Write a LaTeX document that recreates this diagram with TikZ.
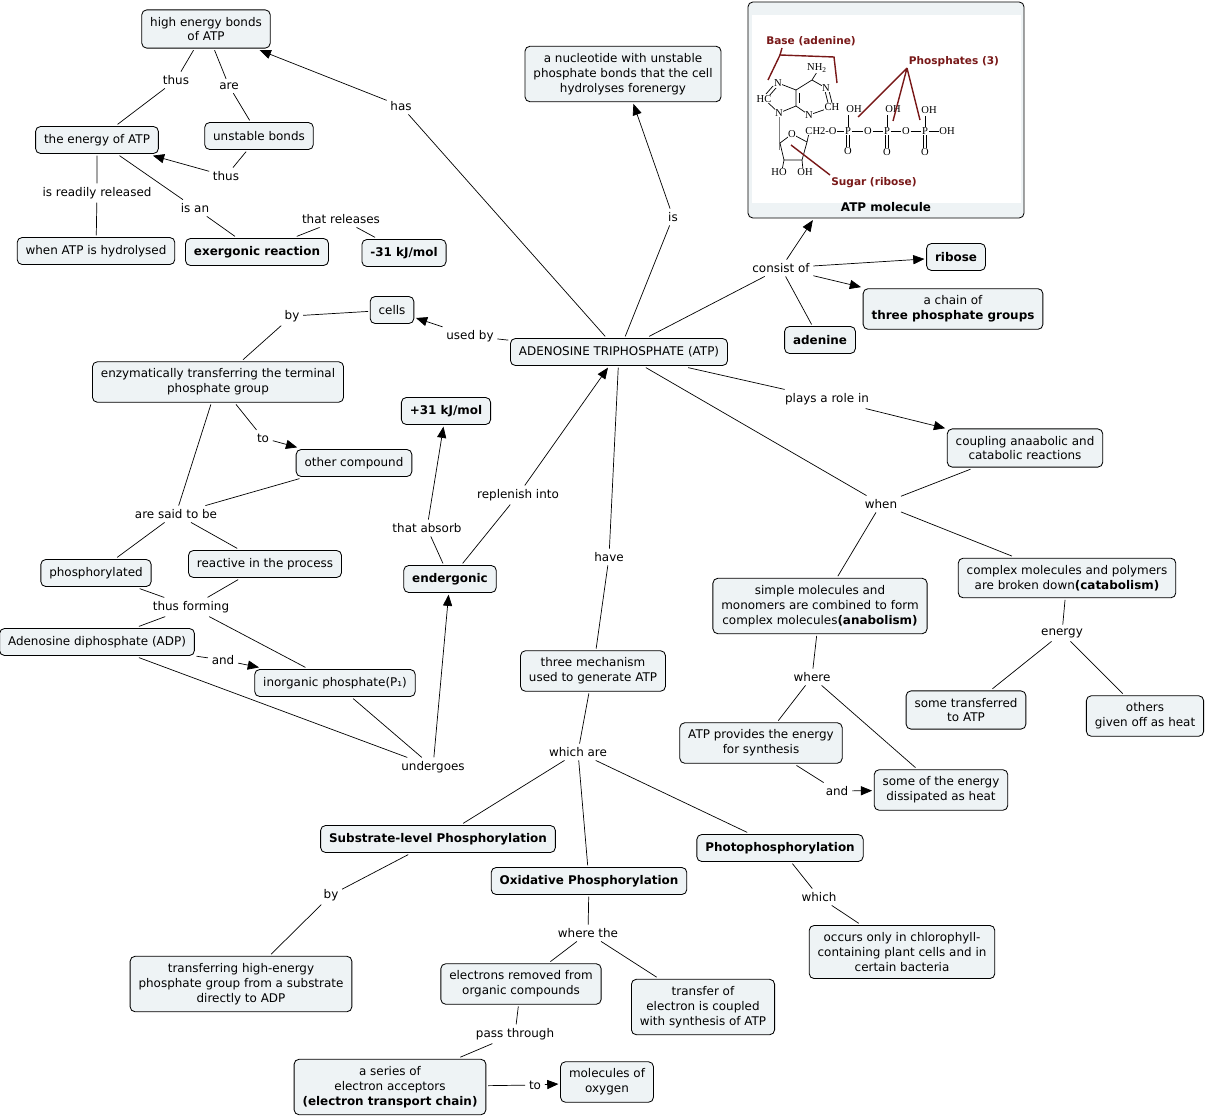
\documentclass[tikz,border=0pt]{standalone}
\usepackage{fontspec}
\setmainfont{DejaVu Sans}
\newfontfamily\chemfont{Liberation Serif}
\usetikzlibrary{arrows.meta}
\definecolor{cmapfill}{RGB}{238,243,245}
\definecolor{tagred}{RGB}{120,24,24}
\tikzset{%
	concept/.style    = {draw, rectangle, rounded corners=3.5pt, fill=cmapfill, line width=0.6pt, align=center, inner xsep=6pt, inner ysep=5pt, minimum height=0.675cm, outer sep=1.5pt, font=\fontsize{8.5}{10.6}\selectfont},
	keyconcept/.style = {concept, font=\fontsize{8.5}{10.6}\selectfont\bfseries},
	link/.style       = {inner sep=2.5pt, align=center, font=\fontsize{8.5}{10.6}\selectfont},
	conn/.style       = {line width=0.5pt},
	arrow/.style      = {line width=0.5pt, -{Triangle[length=8pt,width=6.5pt]}},
	atom/.style       = {inner sep=0.4pt, fill=white, font=\chemfont\fontsize{7.5}{8}\selectfont},
	bond/.style       = {line width=0.5pt},
	tag/.style        = {text=tagred, font=\fontsize{7.5}{8}\selectfont\bfseries},
}
\begin{document}
\begin{tikzpicture}[x=0.025cm,y=-0.025cm]
	\useasboundingbox (0,0) rectangle (1207,1117);
	
	% concepts
	\node[concept] (hebonds) at (206,29) {high energy bonds\\of ATP};
	\node[concept] (energy) at (97,140) {the energy of ATP};
	\node[concept] (unstable) at (259,136) {unstable bonds};
	\node[concept] (hydrolysed) at (96,251) {when ATP is hydrolysed};
	\node[keyconcept] (exergonic) at (257,252) {exergonic reaction};
	\node[keyconcept] (minus31) at (404,253) {-31 kJ/mol};
	\node[concept] (cells) at (392,310) {cells};
	\node[concept] (enzym) at (218,382) {enzymatically transferring the terminal\\phosphate group};
	\node[concept] (other) at (354,463) {other compound};
	\node[keyconcept] (plus31) at (446,411) {+31 kJ/mol};
	\node[concept] (phosph) at (96,573) {phosphorylated};
	\node[concept] (reactive) at (265,564) {reactive in the process};
	\node[concept] (adp) at (97,642) {Adenosine diphosphate (ADP)};
	\node[concept] (inorg) at (335,683) {inorganic phosphate(P₁)};
	\node[keyconcept] (endergonic) at (450,579) {endergonic};
	\node[concept] (atp) at (619,352) {ADENOSINE TRIPHOSPHATE (ATP)};
	\node[concept] (nucleotide) at (623,74) {a nucleotide with unstable\\phosphate bonds that the cell\\hydrolyses forenergy};
	\node[concept, minimum width=6.9cm, minimum height=5.4cm] (molecule) at (886,110) {};
	\node[keyconcept] (ribose) at (956,257) {ribose};
	\node[concept] (chain) at (953,309) {a chain of\\\textbf{three phosphate groups}};
	\node[keyconcept] (adenine) at (820,340) {adenine};
	\node[concept] (coupling) at (1025,448) {coupling anaabolic and\\catabolic reactions};
	\node[concept] (simple) at (820,606) {simple molecules and\\monomers are combined to form\\complex molecules\textbf{(anabolism)}};
	\node[concept] (complex) at (1067,578) {complex molecules and polymers\\are broken down\textbf{(catabolism)}};
	\node[concept] (sometrans) at (966,710) {some transferred\\to ATP};
	\node[concept] (others) at (1145,716) {others\\given off as heat};
	\node[concept] (provides) at (761,743) {ATP provides the energy\\for synthesis};
	\node[concept] (dissip) at (941,790) {some of the energy\\dissipated as heat};
	\node[concept] (three) at (593,671) {three mechanism\\used to generate ATP};
	\node[keyconcept] (substrate) at (438,839) {Substrate-level Phosphorylation};
	\node[keyconcept] (oxidative) at (589,881) {Oxidative Phosphorylation};
	\node[keyconcept] (photo) at (780,848) {Photophosphorylation};
	\node[concept] (transferring) at (241,984) {transferring high-energy\\phosphate group from a substrate\\directly to ADP};
	\node[concept] (removed) at (521,984) {electrons removed from\\organic compounds};
	\node[concept] (coupled) at (703,1007) {transfer of\\electron is coupled\\with synthesis of ATP};
	\node[concept] (occurs) at (902,952) {occurs only in chlorophyll-\\containing plant cells and in\\certain bacteria};
	\node[concept] (series) at (390,1087) {a series of\\electron acceptors\\\textbf{(electron transport chain)}};
	\node[concept] (oxygen) at (607,1082) {molecules of\\oxygen};
	
	% linking phrases
	\node[link] (thusA) at (176,80) {thus};
	\node[link] (are) at (229,86) {are};
	\node[link] (thusB) at (226,176) {thus};
	\node[link] (readily) at (97,193) {is readily released};
	\node[link] (isan) at (195,208) {is an};
	\node[link] (releases) at (341,219) {that releases};
	\node[link] (has) at (401,106) {has};
	\node[link] (is) at (673,217) {is};
	\node[link] (consist) at (781,268) {consist of};
	\node[link] (usedby) at (470,336) {used by};
	\node[link] (byA) at (292,316) {by};
	\node[link] (toA) at (263,438) {to};
	\node[link] (aresaid) at (176,514) {are said to be};
	\node[link] (thusform) at (191,607) {thus forming};
	\node[link] (andA) at (223,660) {and};
	\node[link] (undergoes) at (433,767) {undergoes};
	\node[link] (absorb) at (427,528) {that absorb};
	\node[link] (replenish) at (518,495) {replenish into};
	\node[link] (have) at (609,557) {have};
	\node[link] (plays) at (827,399) {plays a role in};
	\node[link] (when) at (881,504) {when};
	\node[link] (energylbl) at (1062,633) {energy};
	\node[link] (where) at (812,677) {where};
	\node[link] (andB) at (837,791) {and};
	\node[link] (whichare) at (578,752) {which are};
	\node[link] (byB) at (331,895) {by};
	\node[link] (wherethe) at (588,933) {where the};
	\node[link] (which) at (819,897) {which};
	\node[link] (pass) at (515,1034) {pass through};
	\node[link] (toB) at (535,1085) {to};
	
	% connectors
	\draw[conn] (hebonds) -- (thusA) -- (energy);
	\draw[conn] (hebonds) -- (are) -- (unstable);
	\draw[conn] (unstable) -- (thusB);
	\draw[arrow] (thusB) -- (energy);
	\draw[conn] (energy) -- (readily) -- (hydrolysed);
	\draw[conn] (energy) -- (isan) -- (exergonic);
	\draw[conn] (exergonic) -- (releases) -- (minus31);
	\draw[conn] (atp) -- (has);
	\draw[arrow] (has) -- (hebonds);
	\draw[conn] (atp) -- (is);
	\draw[arrow] (is) -- (nucleotide);
	\draw[conn] (atp) -- (consist);
	\draw[arrow] (consist) -- (molecule);
	\draw[arrow] (consist) -- (ribose);
	\draw[arrow] (consist) -- (chain);
	\draw[conn] (consist) -- (adenine);
	\draw[conn] (atp) -- (usedby);
	\draw[arrow] (usedby) -- (cells);
	\draw[conn] (cells) -- (byA) -- (enzym);
	\draw[conn] (enzym) -- (toA);
	\draw[arrow] (toA) -- (other);
	\draw[conn] (enzym) -- (aresaid);
	\draw[conn] (other) -- (aresaid);
	\draw[conn] (aresaid) -- (phosph);
	\draw[conn] (aresaid) -- (reactive);
	\draw[conn] (phosph) -- (thusform);
	\draw[conn] (reactive) -- (thusform);
	\draw[conn] (thusform) -- (adp);
	\draw[conn] (thusform) -- (inorg);
	\draw[conn] (adp) -- (andA);
	\draw[arrow] (andA) -- (inorg);
	\draw[conn] (adp) -- (undergoes);
	\draw[conn] (inorg) -- (undergoes);
	\draw[arrow] (undergoes) -- (endergonic);
	\draw[conn] (endergonic) -- (absorb);
	\draw[arrow] (absorb) -- (plus31);
	\draw[conn] (endergonic) -- (replenish);
	\draw[arrow] (replenish) -- (atp);
	\draw[conn] (atp) -- (have) -- (three);
	\draw[conn] (atp) -- (plays);
	\draw[arrow] (plays) -- (coupling);
	\draw[conn] (atp) -- (when);
	\draw[conn] (coupling) -- (when);
	\draw[conn] (when) -- (simple);
	\draw[conn] (when) -- (complex);
	\draw[conn] (complex) -- (energylbl) -- (sometrans);
	\draw[conn] (energylbl) -- (others);
	\draw[conn] (simple) -- (where) -- (provides);
	\draw[conn] (where) -- (dissip);
	\draw[conn] (provides) -- (andB);
	\draw[arrow] (andB) -- (dissip);
	\draw[conn] (three) -- (whichare) -- (substrate);
	\draw[conn] (whichare) -- (oxidative);
	\draw[conn] (whichare) -- (photo);
	\draw[conn] (substrate) -- (byB) -- (transferring);
	\draw[conn] (oxidative) -- (wherethe) -- (removed);
	\draw[conn] (wherethe) -- (coupled);
	\draw[conn] (photo) -- (which) -- (occurs);
	\draw[conn] (removed) -- (pass) -- (series);
	\draw[conn] (series) -- (toB);
	\draw[arrow] (toB) -- (oxygen);
	
	% ATP molecule picture
	\fill[white] (752,15) rectangle (1021,203);
	\node[font=\fontsize{8.5}{10}\selectfont\bfseries] (moltitle) at (886,207) {ATP molecule};
	\coordinate (ca) at (812,80);
	\coordinate (cb) at (796,90);
	\coordinate (cc) at (796,106);
	\coordinate (sa) at (780,143);
	\coordinate (sb) at (784,160);
	\coordinate (sc) at (802,160);
	\coordinate (sd) at (807,142);
	\draw[bond] (817,72) -- (ca) -- (826,88) (832,107) -- (809,115) -- (cc) -- (cb) -- (ca);
	\draw[bond] (cb) -- (778,83) (764,99) -- (779,113) -- (cc);
	\draw[bond] (825,91) -- (828,103) (829,91) -- (832,103);
	\draw[bond] (773,86) -- (766,94) (776,88) -- (769,96);
	\draw[bond] (799,93) -- (799,103);
	\draw[bond, gray] (779,113) -- (779,150);
	\draw[bond] (792,134) -- (sa) -- (sb) -- (sc) -- (sd) -- (792,134);
	\draw[bond] (sb) -- (782,170) (sc) -- (803,170) (sd) -- (809,133);
	\node[atom] (nh) at (817,68) {NH\textsubscript{2}};
	\node[atom] (na) at (826,88) {N};
	\node[atom] (ch) at (832,107) {CH};
	\node[atom] (nb) at (809,115) {N};
	\node[atom] (nc) at (778,83) {N};
	\node[atom] (hc) at (764,99) {HC};
	\node[atom] (nd) at (779,113) {N};
	\node[atom] (ro) at (792,134) {O};
	\node[atom] (hoa) at (779,172) {HO};
	\node[atom] (oha) at (805,172) {OH};
	\node[atom] (ch2o) at (821,131) {CH2-O};
	\node[atom] (pa) at (848,131) {P};
	\node[atom] (oa) at (868,131) {O};
	\node[atom] (pb) at (887,131) {P};
	\node[atom] (ob) at (906,131) {O};
	\node[atom] (pc) at (925,131) {P};
	\node[atom] (ohd) at (947,131) {OH};
	\node[atom] (ohx) at (854,109) {OH};
	\node[atom] (ohy) at (893,109) {OH};
	\node[atom] (ohz) at (929,110) {OH};
	\node[atom] (dba) at (848,151) {O};
	\node[atom] (dbb) at (887,152) {O};
	\node[atom] (dbc) at (925,152) {O};
	\draw[bond] (ch2o) -- (pa) -- (oa) -- (pb) -- (ob) -- (pc) -- (ohd);
	\draw[bond] (pa.north) -- (848,115) (pb.north) -- (887,115) (pc.north) -- (925,116);
	\draw[bond] ([xshift=-0.9pt]pa.south) -- ([xshift=-0.9pt]dba.north) ([xshift=0.9pt]pa.south) -- ([xshift=0.9pt]dba.north);
	\draw[bond] ([xshift=-0.9pt]pb.south) -- ([xshift=-0.9pt]dbb.north) ([xshift=0.9pt]pb.south) -- ([xshift=0.9pt]dbb.north);
	\draw[bond] ([xshift=-0.9pt]pc.south) -- ([xshift=-0.9pt]dbc.north) ([xshift=0.9pt]pc.south) -- ([xshift=0.9pt]dbc.north);
	\node[tag] (basetag) at (811,41) {Base (adenine)};
	\node[tag] (phostag) at (954,62) {Phosphates (3)};
	\node[tag] (sugartag) at (874,183) {Sugar (ribose)};
	\draw[tagred, line width=1pt] (768,80) -- (780,55) -- (834,57) -- (837,83);
	\draw[tagred, line width=1pt] (780,55) -- (782,48);
	\draw[tagred, line width=1pt] (907,68) -- (858,117) (907,68) -- (893,121) (907,68) -- (920,120);
	\draw[tagred, line width=1pt] (830,175) -- (791,145);
\end{tikzpicture}
\end{document}
